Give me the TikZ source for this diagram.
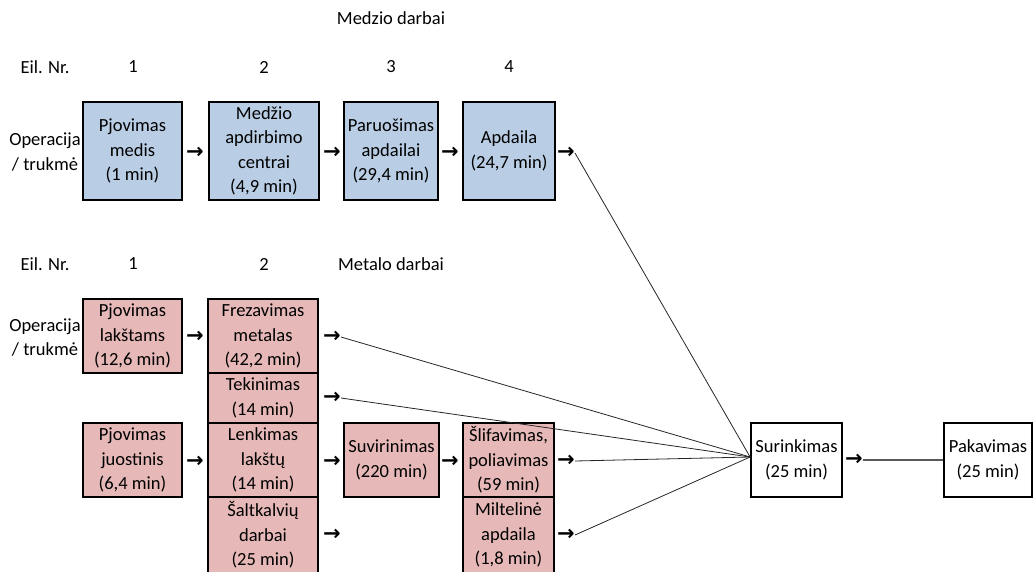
\documentclass[tikz,border=0pt]{standalone}
\usepackage{fontspec}
\setmainfont{Carlito}
\newfontfamily\arrowsym{DejaVu Sans}
\usetikzlibrary{positioning}
\definecolor{woodblue}{RGB}{185,205,229}
\definecolor{metalpink}{RGB}{230,185,184}
\definecolor{linkgray}{RGB}{89,89,89}
\newcommand{\boxtext}{\fontsize{18.5}{24.5}\selectfont}

\begin{document}
\begin{tikzpicture}[
    x=1pt, y=-1pt,
    box/.style={
        draw=black,
        line width=1.8pt,
        inner sep=0pt,
        minimum height=74pt,
        align=center,
        font=\boxtext
    },
    wood/.style={box, fill=woodblue, minimum height=98pt},
    metal/.style={box, fill=metalpink},
    plain/.style={box, fill=white},
    lbl/.style={inner sep=0pt, align=center, font=\boxtext},
    glyph/.style={inner sep=0pt, font=\arrowsym\bfseries\fontsize{21}{21}\selectfont},
    lnk/.style={line width=0.8pt, draw=black!85}
]
\useasboundingbox (0,0) rectangle (1034,571);

% ============================================================
% MEDZIO DARBAI
% ============================================================

\node[lbl] (woodtitle) at (391,18) {Medzio darbai};

\node[lbl] (woodeil) at (45,67) {Eil. Nr.};
\node[lbl] (woodn1) at (133,67) {1};
\node[lbl] (woodn2) at (264,67) {2};
\node[lbl] (woodn3) at (391,67) {3};
\node[lbl] (woodn4) at (509,67) {4};

\node[lbl] (woodop) at (45,152) {Operacija\\/ trukmė};

\node[wood, minimum width=99pt] (pjmed) at (132.5,151)
{Pjovimas\\medis\\(1 min)};

\node[wood, minimum width=110pt] (medapd) at (264,151)
{Medžio\\apdirbimo\\centrai\\(4,9 min)};

\node[wood, minimum width=94pt] (paruos) at (391,151)
{Paruošimas\\apdailai\\(29,4 min)};

\node[wood, minimum width=92pt] (apdaila) at (509,151)
{Apdaila\\(24,7 min)};

\node[glyph] (ar1) at (195,153) {→};
\node[glyph] (ar2) at (332,153) {→};
\node[glyph] (ar3) at (450,153) {→};
\node[glyph] (ar4) at (566,153) {→};

% ============================================================
% METALO DARBAI
% ============================================================

\node[lbl] (meteil) at (45,264) {Eil. Nr.};
\node[lbl] (metn1) at (133,264) {1};
\node[lbl] (metn2) at (264,264) {2};
\node[lbl] (mettitle) at (391,264) {Metalo darbai};

\node[lbl] (metop) at (45,337.5) {Operacija\\/ trukmė};

\node[metal, minimum width=99pt] (pjlak) at (132.5,336)
{Pjovimas\\lakštams\\(12,6 min)};

\node[metal, minimum width=99pt] (pjjuos) at (132.5,460)
{Pjovimas\\juostinis\\(6,4 min)};

\node[metal, minimum width=110pt] (frez) at (263,336)
{Frezavimas\\metalas\\(42,2 min)};

\node[metal, minimum width=110pt, minimum height=50pt] (tekin) at (263,398)
{Tekinimas\\(14 min)};

\node[metal, minimum width=110pt] (lenk) at (263,460)
{Lenkimas\\lakštų\\(14 min)};

\node[metal, minimum width=110pt, minimum height=76pt] (salt) at (263,535)
{Šaltkalvių\\darbai\\(25 min)};

\node[metal, minimum width=95pt] (suvir) at (391.5,460)
{Suvirinimas\\(220 min)};

\node[metal, minimum width=91pt] (slif) at (508.5,460)
{Šlifavimas,\\poliavimas\\(59 min)};

\node[metal, minimum width=91pt, minimum height=76pt] (milt) at (508.5,535)
{Miltelinė\\apdaila\\(1,8 min)};

\node[glyph] (br1) at (195,337) {→};
\node[glyph] (br2) at (195,462) {→};
\node[glyph] (br3) at (332,337) {→};
\node[glyph] (br4) at (332,398) {→};
\node[glyph] (br5) at (332,462) {→};
\node[glyph] (br6) at (332,535) {→};
\node[glyph] (br7) at (450,462) {→};
\node[glyph] (br8) at (566,461) {→};
\node[glyph] (br9) at (566,535) {→};

% ============================================================
% SURINKIMAS / PAKAVIMAS
% ============================================================

\node[plain, minimum width=91pt] (surink) at (796.5,460)
{Surinkimas\\(25 min)};

\node[plain, minimum width=88pt] (pakav) at (988,460)
{Pakavimas\\(25 min)};

\node[glyph] (br10) at (854,460) {→};

\coordinate (join) at ([yshift=3pt]surink.west);

\draw[lnk] (ar4.east) -- (join);
\draw[lnk] (br3.east) -- (join);
\draw[lnk] (br4.east) -- (join);
\draw[lnk] (br8.east) -- (join);
\draw[lnk] (br9.east) -- (join);

\draw[line width=1.2pt, draw=linkgray] (br10.east) -- (pakav.west);

\end{tikzpicture}
\end{document}
